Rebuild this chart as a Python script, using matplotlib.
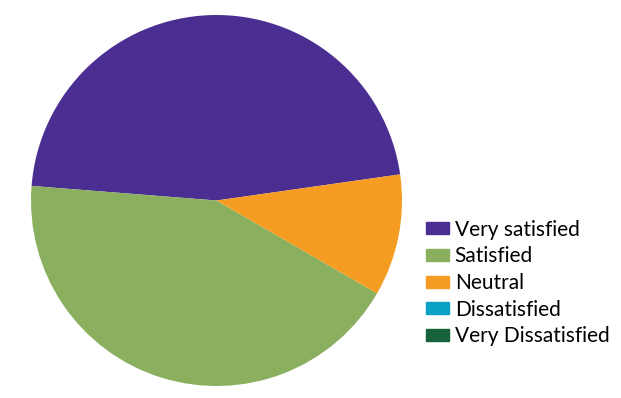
import matplotlib.pyplot as plt

labels = ['Very satisfied', 'Satisfied', 'Neutral', 'Dissatisfied', 'Very Dissatisfied']
values = [46.5, 42.9, 10.6, 0, 0]
colors = ['#4B2E91', '#8AAF5F', '#F59C22', '#0BA1C4', '#17623A']

plt.rcParams['font.family'] = ['Lato', 'DejaVu Sans']

fig = plt.figure(figsize=(6.21, 3.98), dpi=100)
W, H = 621, 398
ax = fig.add_axes([31 / W, 12 / H, 371 / W, 371 / H])

# zero slices are skipped by pie, so draw only the nonzero ones
nz = [i for i, v in enumerate(values) if v > 0]
wedges, _ = ax.pie([values[i] for i in nz], colors=[colors[i] for i in nz],
                   startangle=8.1, counterclock=True, radius=1.0,
                   wedgeprops={'linewidth': 0})
ax.set_xlim(-1, 1)
ax.set_ylim(-1, 1)
ax.set_aspect('equal')

handles = [plt.Rectangle((0, 0), 1, 1, color=c) for c in colors]
fig.legend(handles, labels, loc='center left', bbox_to_anchor=(426 / W, 1 - 283 / H),
           frameon=False, fontsize=15, handlelength=1.08, handleheight=0.5,
           handletextpad=0.3, labelspacing=0.32, borderaxespad=0, borderpad=0)

fig.savefig('out.png', dpi=100)
